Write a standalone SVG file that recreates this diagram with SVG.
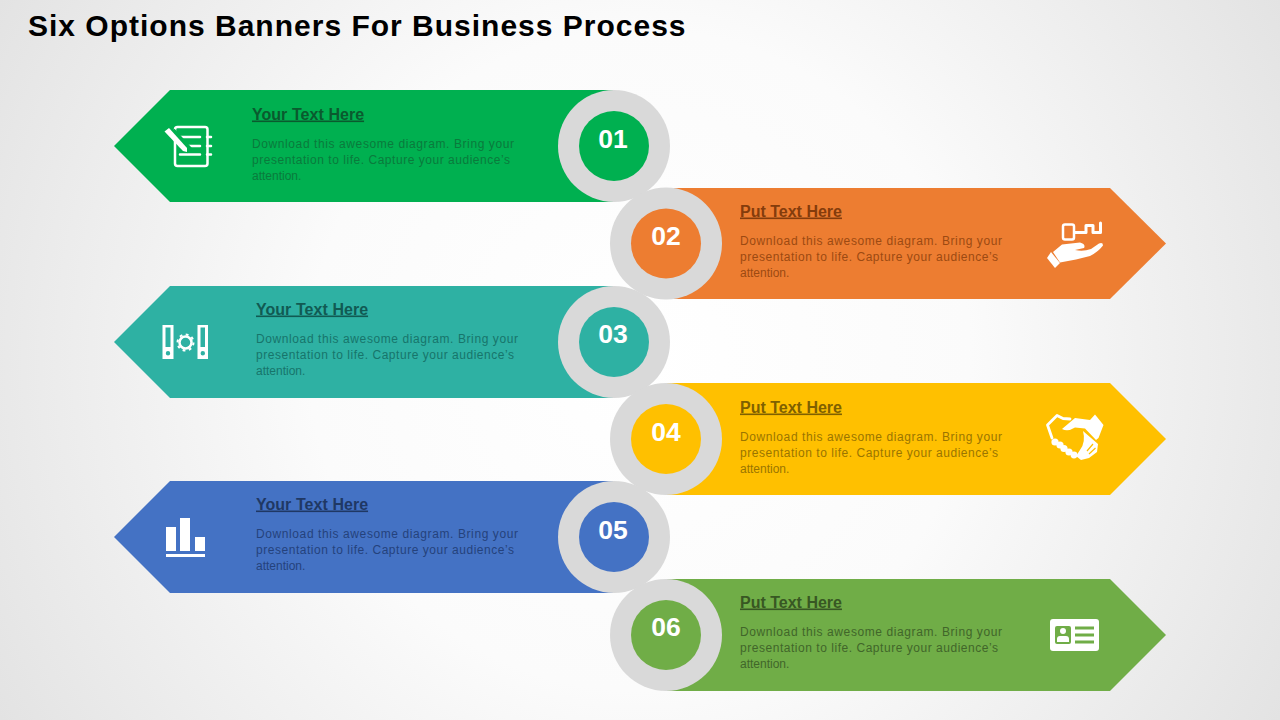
<svg xmlns="http://www.w3.org/2000/svg" width="1280" height="720" viewBox="0 0 1280 720">
<style>
text{font-family:"Liberation Sans",Arial,sans-serif}
.t{font-size:30px;font-weight:700;fill:#000;letter-spacing:1px}
.h{font-size:16px;font-weight:700;text-decoration:underline}
.b{font-size:12px}
.n{font-size:26.500px;font-weight:700;fill:#fff;text-anchor:middle}
.ring{fill:#d9d9d9}
.i{fill:#fff}
.s{fill:none;stroke:#fff;stroke-linecap:round;stroke-linejoin:round}
</style>
<defs>
<radialGradient id="bg" gradientUnits="userSpaceOnUse" cx="640" cy="360" r="734">
<stop offset="0" stop-color="#fff"/><stop offset="0.45" stop-color="#fbfbfb"/><stop offset="1" stop-color="#e3e3e3"/>
</radialGradient>
</defs>
<rect width="1280" height="720" fill="url(#bg)"/>
<text class="t" x="28" y="36">Six Options Banners For Business Process</text>

<g id="node-01">
<path d="M114 146L170 90H614V202H170Z" fill="#00b050"/>
<circle class="ring" cx="614" cy="146" r="56"/><circle cx="614" cy="146" r="35" fill="#00b050"/>
<text class="n" x="613" y="148">01</text>
<text class="h" x="252" y="119.500" fill="#0a5a2e" word-spacing="0.300">Your Text Here</text>
<g class="b" fill="#0a7a3c">
<text x="252" y="148" textLength="262">Download this awesome diagram. Bring your</text>
<text x="252" y="164" textLength="258">presentation to life. Capture your audience’s</text>
<text x="252" y="180">attention.</text>
</g>
<rect x="175" y="127" width="32.500" height="39" rx="2.500" fill="none" stroke="#fff" stroke-width="2.500"/>
<path class="s" stroke-width="2.500" stroke-linecap="butt" d="M180 137H200M180 146H200M180 154.500H200M207 137H211M207 146H211M207 154.500H211"/>
<path d="M172 131L190 151" stroke="#00b050" stroke-width="7" fill="none"/>
<path class="i" d="M164.500 131.500L169 128L187 148L187 152L183 151Z"/>
</g>

<g id="node-02">
<path d="M666 188H1110L1166 243.500L1110 299H666Z" fill="#ed7d31"/>
<circle class="ring" cx="666" cy="243.500" r="56"/><circle cx="666" cy="243.500" r="35" fill="#ed7d31"/>
<text class="n" x="666" y="245">02</text>
<text class="h" x="740" y="216.500" fill="#843c0c">Put Text Here</text>
<g class="b" fill="#9c4a12">
<text x="740" y="245" textLength="262">Download this awesome diagram. Bring your</text>
<text x="740" y="261" textLength="258">presentation to life. Capture your audience’s</text>
<text x="740" y="277">attention.</text>
</g>
<rect x="1063" y="224.500" width="11" height="15" rx="2" fill="none" stroke="#fff" stroke-width="2.500"/>
<path class="s" stroke-width="3" stroke-linecap="butt" stroke-linejoin="miter" d="M1075 232.500H1086V225.500H1093V232.500H1100.500V223"/>
<path class="i" d="M1047 258L1051 252L1060 263L1055 268Z"/>
<path class="i" d="M1053 252L1062 244.500L1080 242.500Q1086 244 1084 248L1075 250Q1083 252 1091 249L1099 243.500Q1103 242 1103 245.500Q1098 252 1090 256L1076 259.500L1060 262.500Z"/>
</g>

<g id="node-03">
<path d="M114 342L170 286H614V398H170Z" fill="#2eb1a3"/>
<circle class="ring" cx="614" cy="342" r="56"/><circle cx="614" cy="342" r="35" fill="#2eb1a3"/>
<text class="n" x="613" y="343">03</text>
<text class="h" x="256" y="314.500" fill="#115a53" word-spacing="0.300">Your Text Here</text>
<g class="b" fill="#17756b">
<text x="256" y="343" textLength="262">Download this awesome diagram. Bring your</text>
<text x="256" y="359" textLength="258">presentation to life. Capture your audience’s</text>
<text x="256" y="375">attention.</text>
</g>
<path class="i" fill-rule="evenodd" d="M162.500 325H173.500V359H162.500ZM165.500 327.500V347H170.500V327.500ZM168 351A2.200 2.200 0 1 0 168 355.400A2.200 2.200 0 1 0 168 351Z"/>
<path class="i" fill-rule="evenodd" d="M197.500 325H208V359H197.500ZM200.500 327.500V347H205V327.500ZM202.800 351A2.200 2.200 0 1 0 202.800 355.400A2.200 2.200 0 1 0 202.800 351Z"/>
<circle cx="185.500" cy="342.500" r="6" fill="none" stroke="#fff" stroke-width="2.500"/>
<circle cx="185.500" cy="342.500" r="8" fill="none" stroke="#fff" stroke-width="2" stroke-dasharray="2.800 3.480"/>
</g>

<g id="node-04">
<path d="M666 383H1110L1166 439L1110 495H666Z" fill="#ffc000"/>
<circle class="ring" cx="666" cy="439" r="56"/><circle cx="666" cy="439" r="35" fill="#ffc000"/>
<text class="n" x="666" y="441">04</text>
<text class="h" x="740" y="412.500" fill="#7f6000">Put Text Here</text>
<g class="b" fill="#9a7500">
<text x="740" y="441" textLength="262">Download this awesome diagram. Bring your</text>
<text x="740" y="457" textLength="258">presentation to life. Capture your audience’s</text>
<text x="740" y="473">attention.</text>
</g>
<path class="s" stroke-width="2.800" d="M1052 438L1047.500 425L1057 415.500L1063 418.500L1070 419"/>
<path class="i" d="M1062 429L1075 418L1090 420L1095 414.500L1103.500 425L1098.500 438L1096 440L1085 428.500L1075 427.500Q1068 432 1062 429Z"/>
<path class="i" d="M1083 431L1098 444L1097 452L1089 458L1081 460L1076 456L1080 450Q1086 442 1083 431Z"/>
<path d="M1093 444L1087 451M1095.500 448L1089 454" stroke="#ffc000" stroke-width="1.200" fill="none"/>
<circle class="i" cx="1055" cy="442" r="3.600"/><circle class="i" cx="1060" cy="445" r="3.600"/><circle class="i" cx="1064" cy="448.500" r="3.600"/><circle class="i" cx="1069" cy="452" r="3.600"/><circle class="i" cx="1074" cy="455" r="3.400"/>
</g>

<g id="node-05">
<path d="M114 537L170 481H614V593H170Z" fill="#4472c4"/>
<circle class="ring" cx="614" cy="537" r="56"/><circle cx="614" cy="537" r="35" fill="#4472c4"/>
<text class="n" x="613" y="539">05</text>
<text class="h" x="256" y="509.500" fill="#1f3864" word-spacing="0.300">Your Text Here</text>
<g class="b" fill="#24427c">
<text x="256" y="538" textLength="262">Download this awesome diagram. Bring your</text>
<text x="256" y="554" textLength="258">presentation to life. Capture your audience’s</text>
<text x="256" y="570">attention.</text>
</g>
<path class="i" d="M166 527H176V551H166ZM180 518H190V551H180ZM195 537H205V551H195ZM166 554H205V557H166Z"/>
</g>

<g id="node-06">
<path d="M666 579H1110L1166 635L1110 691H666Z" fill="#70ad47"/>
<circle class="ring" cx="666" cy="635" r="56"/><circle cx="666" cy="635" r="35" fill="#70ad47"/>
<text class="n" x="666" y="636">06</text>
<text class="h" x="740" y="607.500" fill="#385723">Put Text Here</text>
<g class="b" fill="#41662a">
<text x="740" y="636" textLength="262">Download this awesome diagram. Bring your</text>
<text x="740" y="652" textLength="258">presentation to life. Capture your audience’s</text>
<text x="740" y="668">attention.</text>
</g>
<rect class="i" x="1050" y="619" width="49" height="32" rx="3"/>
<rect x="1055" y="626" width="16" height="18" rx="2" fill="#70ad47"/>
<circle class="i" cx="1063" cy="631" r="3"/>
<path class="i" d="M1057 642V639Q1057 636 1060 636H1066Q1069 636 1069 639V642Z"/>
<path d="M1075 628H1094M1075 635H1094M1075 642H1094" stroke="#70ad47" stroke-width="2.800" fill="none"/>
</g>
<g id="connectors"/>
</svg>
